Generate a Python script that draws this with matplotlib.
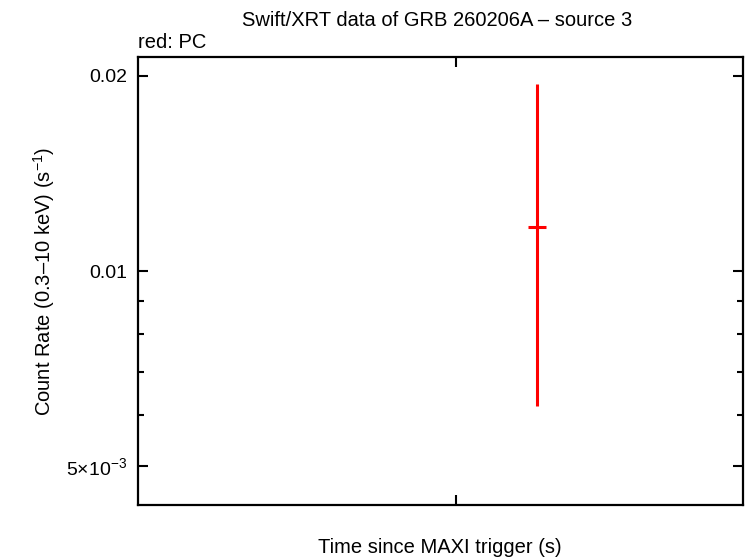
import matplotlib
matplotlib.use("Agg")
import matplotlib.pyplot as plt
from matplotlib.ticker import FixedLocator, NullFormatter

plt.rcParams['font.family'] = ['Liberation Sans', 'DejaVu Sans']
plt.rcParams['mathtext.fontset'] = 'custom'
plt.rcParams['mathtext.rm'] = 'Liberation Sans'
plt.rcParams['mathtext.it'] = 'Liberation Sans'

# --- data (PC mode, one bin) ---
t = [0.66]
t_err = [0.015]
rate = [0.01168]
rate_lo = [0.00620]
rate_hi = [0.01940]

yticks = [0.005, 0.01, 0.02]
ytick_labels = [r'5$\times$10$^{-3}$', '0.01', '0.02']
yminor = [0.006, 0.007, 0.008, 0.009]
xticks = [0.525]

fig = plt.figure(figsize=(7.46, 5.58), dpi=100)
ax = fig.add_axes([0.185, 0.095, 0.811, 0.803])

err_low = [r - lo for r, lo in zip(rate, rate_lo)]
err_high = [hi - r for r, hi in zip(rate, rate_hi)]
ax.errorbar(t, rate, xerr=t_err, yerr=[err_low, err_high], fmt='none',
            ecolor='#ff0000', elinewidth=2.2, capsize=0)

ax.set_yscale('log')
ax.set_ylim(0.00436, 0.02139)
ax.set_xlim(0, 1)

ax.yaxis.set_major_locator(FixedLocator(yticks))
ax.set_yticklabels(ytick_labels)
ax.yaxis.set_minor_locator(FixedLocator(yminor))
ax.yaxis.set_minor_formatter(NullFormatter())
ax.set_xticks(xticks)
ax.set_xticklabels([''])

ax.tick_params(which='major', direction='in', length=7, width=1.5,
               top=True, right=True, labelsize=14, pad=8)
ax.tick_params(which='minor', direction='in', length=4, width=1.5,
               top=True, right=True)
for s in ax.spines.values():
    s.set_linewidth(1.6)

ax.set_ylabel('Count Rate (0.3\u201310 keV) (s$^{-1}$)', fontsize=14.5, labelpad=6)
fig.text(0.59, 0.019, 'Time since MAXI trigger (s)', ha='center', va='center',
         fontsize=14.5)
fig.text(0.586, 0.963, 'Swift/XRT data of GRB 260206A \u2013 source 3',
         ha='center', va='center', fontsize=14.5)
fig.text(0.185, 0.924, 'red: PC', ha='left', va='center', fontsize=14.5)

fig.savefig('out.png', dpi=100)
